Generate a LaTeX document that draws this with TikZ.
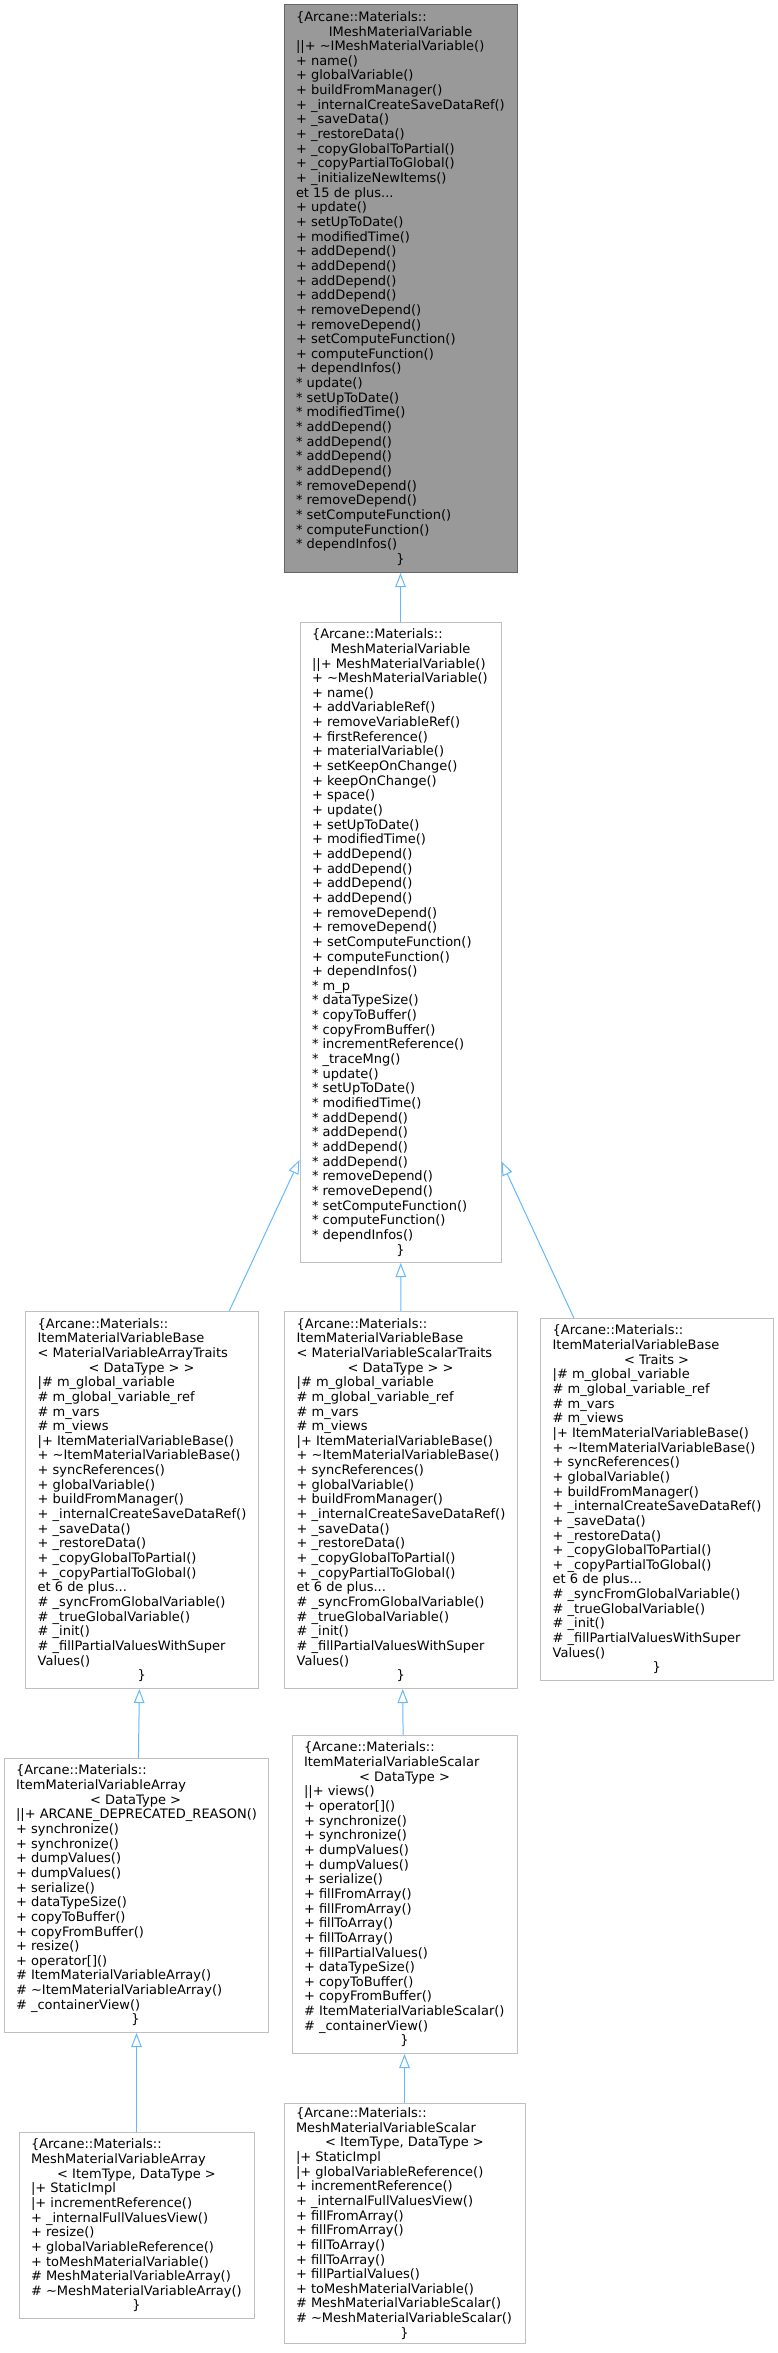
\documentclass[tikz,border=0pt]{standalone}
\usepackage{fontspec}
\setmainfont{DejaVu Sans}
\usepackage{tikz}
\usetikzlibrary{arrows.meta}
\definecolor{dxGray}{HTML}{999999}
\definecolor{dxDark}{HTML}{666666}
\definecolor{dxFrame}{HTML}{BFBFBF}
\definecolor{dxEdge}{HTML}{63B8FF}
\newcommand{\linew}{0pt}
\newcommand{\centred}[1]{\makebox[\dimexpr\linew\relax][c]{#1}}
\newcommand{\tld}{\textasciitilde}

\begin{document}
\begin{tikzpicture}[x=1pt,y=-1pt,
  block/.style={draw=dxFrame,fill=white,line width=1pt,anchor=north,
    align=left,inner xsep=12pt,inner ysep=0pt,
    font=\fontsize{13}{14.65}\selectfont},
  current/.style={block,draw=dxDark,fill=dxGray},
  wide/.style={minimum width=#1,execute at begin node={\def\linew{#1-24pt}}},
  arrow/.style={-{Triangle[open,length=14pt,width=10.5pt]},line width=1pt,draw=dxEdge}
]
\useasboundingbox (0,0) rectangle (778,2353);
% base class
\node[current,wide=233pt,minimum height=568pt] (base) at (400.5,4)
  {\{Arcane::Materials::\\
   \centred{IMeshMaterialVariable}\\
   ||+ \tld IMeshMaterialVariable()\\
   + name()\\
   + globalVariable()\\
   + buildFromManager()\\
   + \_internalCreateSaveDataRef()\\
   + \_saveData()\\
   + \_restoreData()\\
   + \_copyGlobalToPartial()\\
   + \_copyPartialToGlobal()\\
   + \_initializeNewItems()\\
   et 15 de plus...\\
   + update()\\
   + setUpToDate()\\
   + modifiedTime()\\
   + addDepend()\\
   + addDepend()\\
   + addDepend()\\
   + addDepend()\\
   + removeDepend()\\
   + removeDepend()\\
   + setComputeFunction()\\
   + computeFunction()\\
   + dependInfos()\\
   {}* update()\\
   {}* setUpToDate()\\
   {}* modifiedTime()\\
   {}* addDepend()\\
   {}* addDepend()\\
   {}* addDepend()\\
   {}* addDepend()\\
   {}* removeDepend()\\
   {}* removeDepend()\\
   {}* setComputeFunction()\\
   {}* computeFunction()\\
   {}* dependInfos()\\
   \centred{\}}};
\node[block,wide=201pt,minimum height=640pt] (mmv) at (400.5,622)
  {\{Arcane::Materials::\\
   \centred{MeshMaterialVariable}\\
   ||+ MeshMaterialVariable()\\
   + \tld MeshMaterialVariable()\\
   + name()\\
   + addVariableRef()\\
   + removeVariableRef()\\
   + firstReference()\\
   + materialVariable()\\
   + setKeepOnChange()\\
   + keepOnChange()\\
   + space()\\
   + update()\\
   + setUpToDate()\\
   + modifiedTime()\\
   + addDepend()\\
   + addDepend()\\
   + addDepend()\\
   + addDepend()\\
   + removeDepend()\\
   + removeDepend()\\
   + setComputeFunction()\\
   + computeFunction()\\
   + dependInfos()\\
   {}* m\_p\\
   {}* dataTypeSize()\\
   {}* copyToBuffer()\\
   {}* copyFromBuffer()\\
   {}* incrementReference()\\
   {}* \_traceMng()\\
   {}* update()\\
   {}* setUpToDate()\\
   {}* modifiedTime()\\
   {}* addDepend()\\
   {}* addDepend()\\
   {}* addDepend()\\
   {}* addDepend()\\
   {}* removeDepend()\\
   {}* removeDepend()\\
   {}* setComputeFunction()\\
   {}* computeFunction()\\
   {}* dependInfos()\\
   \centred{\}}};
% ItemMaterialVariableBase variants
\node[block,wide=232pt,minimum height=377pt] (ibarray) at (142,1311)
  {\{Arcane::Materials::\\
   ItemMaterialVariableBase\\
   < MaterialVariableArrayTraits\\
   \centred{< DataType > >}\\
   |\# m\_global\_variable\\
   \# m\_global\_variable\_ref\\
   \# m\_vars\\
   \# m\_views\\
   |+ ItemMaterialVariableBase()\\
   + \tld ItemMaterialVariableBase()\\
   + syncReferences()\\
   + globalVariable()\\
   + buildFromManager()\\
   + \_internalCreateSaveDataRef()\\
   + \_saveData()\\
   + \_restoreData()\\
   + \_copyGlobalToPartial()\\
   + \_copyPartialToGlobal()\\
   et 6 de plus...\\
   \# \_syncFromGlobalVariable()\\
   \# \_trueGlobalVariable()\\
   \# \_init()\\
   \# \_fillPartialValuesWithSuper\\
   Values()\\
   \centred{\}}};
\node[block,wide=232pt,minimum height=377pt] (ibscalar) at (401,1311)
  {\{Arcane::Materials::\\
   ItemMaterialVariableBase\\
   < MaterialVariableScalarTraits\\
   \centred{< DataType > >}\\
   |\# m\_global\_variable\\
   \# m\_global\_variable\_ref\\
   \# m\_vars\\
   \# m\_views\\
   |+ ItemMaterialVariableBase()\\
   + \tld ItemMaterialVariableBase()\\
   + syncReferences()\\
   + globalVariable()\\
   + buildFromManager()\\
   + \_internalCreateSaveDataRef()\\
   + \_saveData()\\
   + \_restoreData()\\
   + \_copyGlobalToPartial()\\
   + \_copyPartialToGlobal()\\
   et 6 de plus...\\
   \# \_syncFromGlobalVariable()\\
   \# \_trueGlobalVariable()\\
   \# \_init()\\
   \# \_fillPartialValuesWithSuper\\
   Values()\\
   \centred{\}}};
\node[block,wide=232pt,minimum height=362pt] (ibtraits) at (657,1318)
  {\{Arcane::Materials::\\
   ItemMaterialVariableBase\\
   \centred{< Traits >}\\
   |\# m\_global\_variable\\
   \# m\_global\_variable\_ref\\
   \# m\_vars\\
   \# m\_views\\
   |+ ItemMaterialVariableBase()\\
   + \tld ItemMaterialVariableBase()\\
   + syncReferences()\\
   + globalVariable()\\
   + buildFromManager()\\
   + \_internalCreateSaveDataRef()\\
   + \_saveData()\\
   + \_restoreData()\\
   + \_copyGlobalToPartial()\\
   + \_copyPartialToGlobal()\\
   et 6 de plus...\\
   \# \_syncFromGlobalVariable()\\
   \# \_trueGlobalVariable()\\
   \# \_init()\\
   \# \_fillPartialValuesWithSuper\\
   Values()\\
   \centred{\}}};
% array / scalar classes
\node[block,wide=263pt,minimum height=274pt] (ivarray) at (136.5,1758)
  {\{Arcane::Materials::\\
   ItemMaterialVariableArray\\
   \centred{< DataType >}\\
   ||+ ARCANE\_DEPRECATED\_REASON()\\
   + synchronize()\\
   + synchronize()\\
   + dumpValues()\\
   + dumpValues()\\
   + serialize()\\
   + dataTypeSize()\\
   + copyToBuffer()\\
   + copyFromBuffer()\\
   + resize()\\
   + operator[]()\\
   \# ItemMaterialVariableArray()\\
   \# \tld ItemMaterialVariableArray()\\
   \# \_containerView()\\
   \centred{\}}};
\node[block,wide=225pt,minimum height=318pt] (ivscalar) at (404.5,1735)
  {\{Arcane::Materials::\\
   ItemMaterialVariableScalar\\
   \centred{< DataType >}\\
   ||+ views()\\
   + operator[]()\\
   + synchronize()\\
   + synchronize()\\
   + dumpValues()\\
   + dumpValues()\\
   + serialize()\\
   + fillFromArray()\\
   + fillFromArray()\\
   + fillToArray()\\
   + fillToArray()\\
   + fillPartialValues()\\
   + dataTypeSize()\\
   + copyToBuffer()\\
   + copyFromBuffer()\\
   \# ItemMaterialVariableScalar()\\
   \# \_containerView()\\
   \centred{\}}};
\node[block,wide=235pt,minimum height=186pt] (mvarray) at (136.5,2132)
  {\{Arcane::Materials::\\
   MeshMaterialVariableArray\\
   \centred{< ItemType, DataType >}\\
   |+ StaticImpl\\
   |+ incrementReference()\\
   + \_internalFullValuesView()\\
   + resize()\\
   + globalVariableReference()\\
   + toMeshMaterialVariable()\\
   \# MeshMaterialVariableArray()\\
   \# \tld MeshMaterialVariableArray()\\
   \centred{\}}};
\node[block,wide=241pt,minimum height=240pt] (mvscalar) at (404.5,2103)
  {\{Arcane::Materials::\\
   MeshMaterialVariableScalar\\
   \centred{< ItemType, DataType >}\\
   |+ StaticImpl\\
   |+ globalVariableReference()\\
   + incrementReference()\\
   + \_internalFullValuesView()\\
   + fillFromArray()\\
   + fillFromArray()\\
   + fillToArray()\\
   + fillToArray()\\
   + fillPartialValues()\\
   + toMeshMaterialVariable()\\
   \# MeshMaterialVariableScalar()\\
   \# \tld MeshMaterialVariableScalar()\\
   \centred{\}}};
% inheritance
\draw[arrow] (mmv) -- (base);
\draw[arrow] (ibarray) -- (mmv);
\draw[arrow] (ibscalar) -- (mmv);
\draw[arrow] (ibtraits) -- (mmv);
\draw[arrow] (ivarray) -- (ibarray);
\draw[arrow] (ivscalar) -- (ibscalar);
\draw[arrow] (mvarray) -- (ivarray);
\draw[arrow] (mvscalar) -- (ivscalar);
\end{tikzpicture}
\end{document}
